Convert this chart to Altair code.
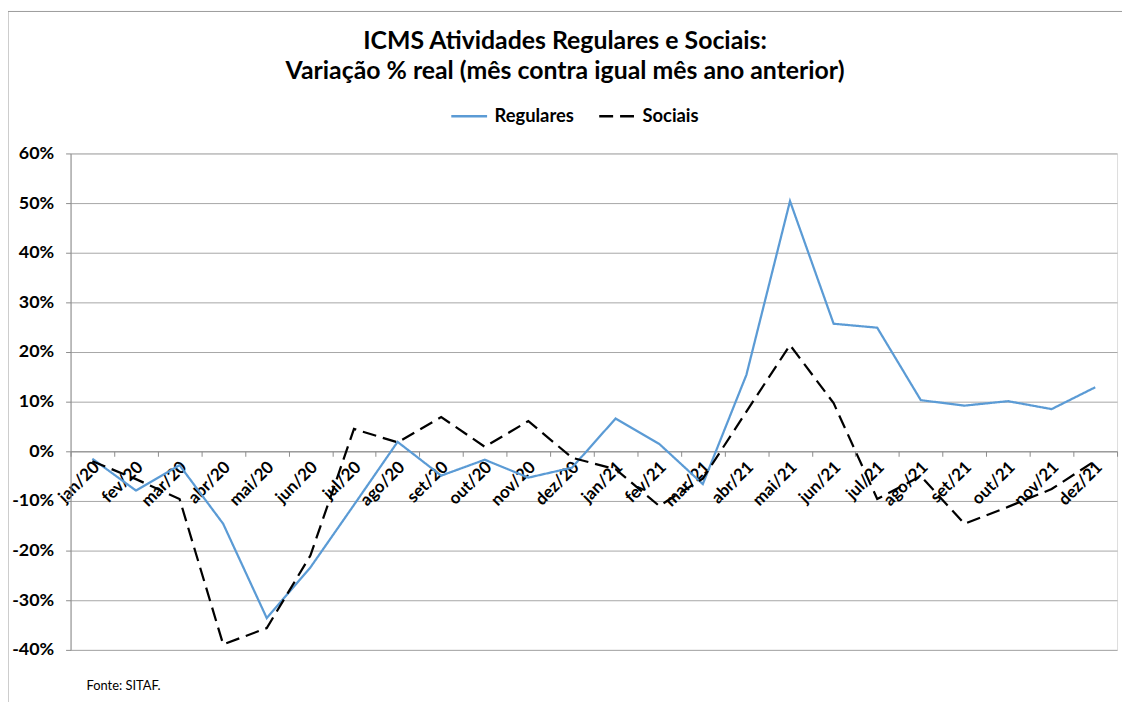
import altair as alt
import pandas as pd

months = ["jan/20", "fev/20", "mar/20", "abr/20", "mai/20", "jun/20",
          "jul/20", "ago/20", "set/20", "out/20", "nov/20", "dez/20",
          "jan/21", "fev/21", "mar/21", "abr/21", "mai/21", "jun/21",
          "jul/21", "ago/21", "set/21", "out/21", "nov/21", "dez/21"]

regulares = [-1.5, -7.9, -2.8, -14.6, -33.6, -23.4, -10.8, 1.9, -4.9, -1.7, -5.3, -3.3,
             6.6, 1.5, -6.6, 15.4, 50.4, 25.7, 24.9, 10.3, 9.2, 10.1, 8.5, 12.9]

sociais = [-2.0, -5.6, -9.6, -38.9, -35.6, -21.0, 4.5, 1.8, 6.9, 0.9, 6.1, -1.3,
           -3.6, -11.0, -5.5, 8.0, 21.4, 9.7, -9.6, -5.0, -14.6, -11.2, -7.6, -1.9]

series_names = ["Regulares", "Sociais"]
series_colors = ["#5B9BD5", "#000000"]
y_ticks = [-40, -30, -20, -10, 0, 10, 20, 30, 40, 50, 60]

title_lines = ["ICMS Atividades Regulares e Sociais:",
               "Variação % real (mês contra igual mês ano anterior)"]
source_note = "Fonte: SITAF."

df = pd.DataFrame({
    "mes": months * 2,
    "serie": [series_names[0]] * len(months) + [series_names[1]] * len(months),
    "valor": regulares + sociais,
})

FONT = "Lato"
GRID = "#a6a6a6"
AXIS = "#8c8c8c"

legend = alt.Legend(
    title=None, orient="none", direction="horizontal",
    legendX=382, legendY=-57,
    labelFont=FONT, labelFontSize=18.5, labelFontWeight="bold", labelColor="black",
    symbolType="stroke", symbolSize=1300, symbolStrokeWidth=2.5,
    columnPadding=20, labelOffset=6,
)

lines = alt.Chart(df).mark_line(strokeWidth=2.25).encode(
    x=alt.X("mes:N", sort=months,
            scale=alt.Scale(type="band", paddingInner=0, paddingOuter=0),
            axis=alt.Axis(title=None, orient="bottom", offset=-200,
                          labelAngle=-45, labelAlign="right", labelBaseline="middle",
                          labelFont=FONT, labelFontSize=17, labelFontWeight="bold",
                          labelColor="black", labelPadding=8, labelOffset=4,
                          tickBand="extent", tickSize=5, tickColor=AXIS,
                          domainColor=AXIS, grid=False, labelOverlap=False)),
    y=alt.Y("valor:Q",
            scale=alt.Scale(domain=[-40, 60], nice=False, zero=False),
            axis=alt.Axis(title=None, values=y_ticks, labelExpr="datum.value + '%'",
                          labelFont=FONT, labelFontSize=18, labelFontWeight="bold",
                          labelColor="black", labelPadding=12, tickSize=5,
                          tickColor=AXIS, domainColor=AXIS,
                          grid=True, gridColor=GRID, gridWidth=1)),
    color=alt.Color("serie:N", sort=series_names,
                    scale=alt.Scale(domain=series_names, range=series_colors),
                    legend=legend),
    strokeDash=alt.StrokeDash("serie:N", sort=series_names,
                              scale=alt.Scale(domain=series_names, range=[[1, 0], [14, 7]]),
                              legend=legend),
)

one = pd.DataFrame({"k": [0]})
border_top = alt.Chart(one).mark_rule(color="#9a9a9a", strokeWidth=1).encode(
    x=alt.value(-63), x2=alt.value(1100), y=alt.value(-143))
border_left = alt.Chart(one).mark_rule(color="#9a9a9a", strokeWidth=1).encode(
    x=alt.value(-63), y=alt.value(-143), y2=alt.value(600))
note = alt.Chart(one).mark_text(align="left", baseline="middle", font=FONT,
                                fontSize=13, color="black").encode(
    x=alt.value(16), y=alt.value(536), text=alt.value(source_note))

chart = alt.layer(lines, border_top, border_left, note).properties(
    width=1054, height=500,
    autosize=alt.AutoSizeParams(type="none"),
    padding={"left": 63, "top": 144, "right": 5, "bottom": 50},
    title=alt.TitleParams(title_lines, font=FONT, fontSize=25, fontWeight="bold",
                          color="black", anchor="middle", frame="group", dx=-29,
                          lineHeight=31, offset=-74),
).configure_view(stroke=None).configure(background="white")

chart.save("out.html", embed_options={"renderer": "svg", "actions": False})
